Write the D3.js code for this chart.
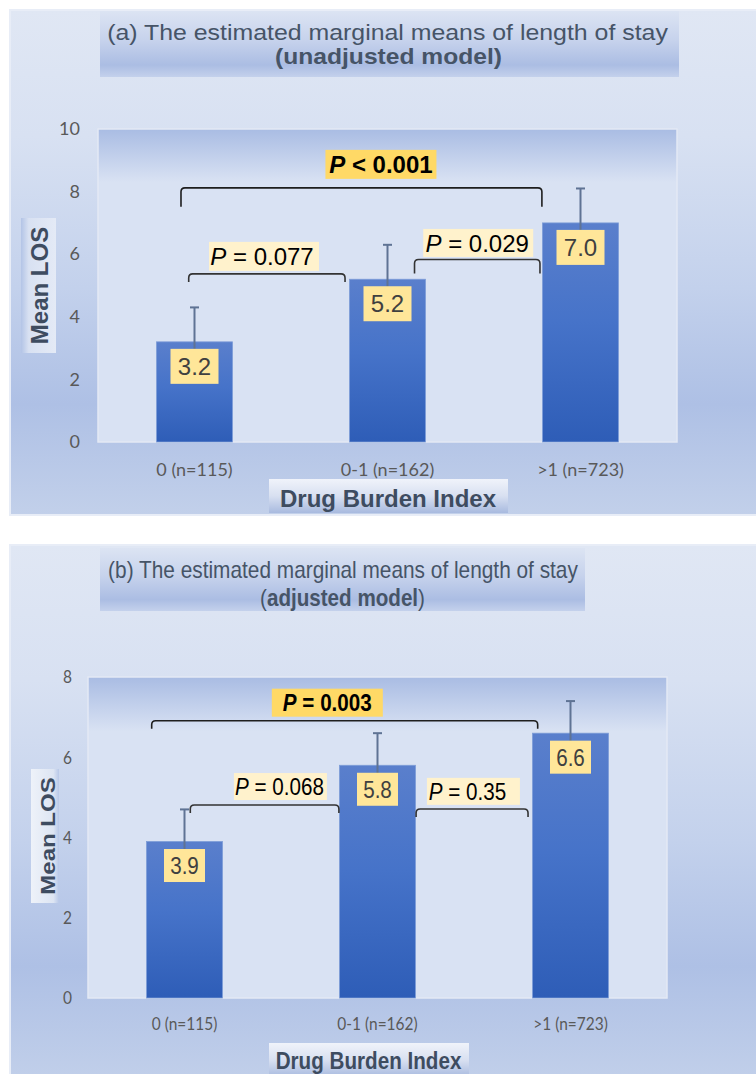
<!DOCTYPE html>
<html>
<head>
<meta charset="utf-8">
<script src="https://cdn.jsdelivr.net/npm/d3@7"></script>
<style>
  body { margin: 0; background: #ffffff; }
  svg { display: block; }
</style>
</head>
<body>
<svg id="chart" width="756" height="1074"></svg>
<script>
// ---- data ----
const categories = ["0 (n=115)", "0-1 (n=162)", ">1 (n=723)"];

// (a) unadjusted model
const meansUnadjusted = [3.2, 5.2, 7.0];
const errUnadjusted = [1.1, 1.1, 1.1];
const ticksUnadjusted = [0, 2, 4, 6, 8, 10];
const pUnadjusted = ["< 0.001", "= 0.077", "= 0.029"];

// (b) adjusted model
const meansAdjusted = [3.9, 5.8, 6.6];
const errAdjusted = [0.8, 0.8, 0.8];
const ticksAdjusted = [0, 2, 4, 6, 8];
const pAdjusted = ["= 0.003", "= 0.068", "= 0.35"];

// pair of groups compared by each p-value
const comparisons = [[0, 2], [0, 1], [1, 2]];

// ---- layout ----
const FONT = "'Liberation Sans', Arial, sans-serif";
const TICKFONT = "Lato, 'Open Sans', sans-serif";
const TITLE_COLOR = "#465467";
const AXIS_TITLE_COLOR = "#3e4c60";

const layoutA = {
  top: 10, height: 505, sx: 1,
  titleBox: [100, 11, 579, 66],
  titleLines: [
    { cx: 387.5, y: 40, w: 561, fs: 22, parts: [{ t: "(a) The estimated marginal means of length of stay" }] },
    { cx: 388.5, y: 64, w: 227, fs: 22, parts: [{ t: "(unadjusted model)", bold: true }] }
  ],
  plot: { x0: 98, x1: 677, yTop: 129, yBottom: 442 },
  tickRight: 80, catY: 469.5,
  vb: { off: 7, w: 48, h: 35, fs: 24 },
  brackets: [
    { d0: -0.07, d1: -0.20, level: 8.12, drop: 19, lt: 0.966, lv: 8.87, lw: 111, lh: 29, tdx: 0 },
    { d0: -0.03, d1: -0.22, level: 5.37, drop: 8, lt: 0.36, lv: 5.93, lw: 110, lh: 29, tdx: -2 },
    { d0: 0.14, d1: -0.21, level: 5.83, drop: 14, lt: 1.47, lv: 6.36, lw: 110, lh: 28, tdx: -1 }
  ],
  yTitle: { box: [21, 218, 35, 135], x: 48, y: 285.5, grad: "yTitleBgA" },
  xTitle: { box: [269, 479, 239, 34], x: 388, y: 507, fs: 24 }
};

const layoutB = {
  top: 545, height: 540, sx: 0.86,
  titleBox: [100, 548, 485, 63],
  titleLines: [
    { cx: 343, y: 578, w: 470, fs: 23, parts: [{ t: "(b) The estimated marginal means of length of stay" }] },
    { cx: 342.5, y: 606, w: 165, fs: 23, parts: [{ t: "(" }, { t: "adjusted model", bold: true }, { t: ")" }] }
  ],
  plot: { x0: 88, x1: 667, yTop: 677, yBottom: 998 },
  tickRight: 72, catY: 1024,
  vb: { off: 7.5, w: 41, h: 33, fs: 24 },
  brackets: [
    { d0: -0.17, d1: -0.17, level: 6.91, drop: 8, lt: 0.74, lv: 7.36, lw: 111, lh: 28, tdx: 0 },
    { d0: 0.03, d1: -0.20, level: 4.81, drop: 8, lt: 0.497, lv: 5.27, lw: 93, lh: 27, tdx: -1 },
    { d0: 0.20, d1: -0.22, level: 4.71, drop: 8, lt: 1.497, lv: 5.15, lw: 93, lh: 27, tdx: -6 }
  ],
  yTitle: { box: [31, 769, 28, 134], x: 55, y: 836, grad: "yTitleBgB" },
  xTitle: { box: [269, 1043, 200, 34], x: 368.5, y: 1069, fs: 24 }
};

// ---- gradients ----
const svg = d3.select("#chart");
const defs = svg.append("defs");

function linGrad(id, horizontal, stops) {
  const gr = defs.append("linearGradient").attr("id", id)
    .attr("x1", 0).attr("y1", 0)
    .attr("x2", horizontal ? 1 : 0).attr("y2", horizontal ? 0 : 1);
  stops.forEach(([o, c]) => gr.append("stop").attr("offset", o).attr("stop-color", c));
}

linGrad("outerBg", false, [[0, "#e0e7f4"], [0.25, "#d8e1f2"], [0.55, "#c3d1ec"], [0.78, "#aec0e5"], [1, "#c2d0ea"]]);
linGrad("titleBg", false, [[0, "#dce4f3"], [0.45, "#c6d2ec"], [0.82, "#abbde3"], [1, "#c4d1ec"]]);
linGrad("plotBg", false, [[0, "#a9bce3"], [0.17, "#d9e2f3"], [1, "#d9e2f3"]]);
linGrad("barFill", false, [[0, "#5a7fcc"], [0.45, "#4673c9"], [1, "#2e5db7"]]);
linGrad("xTitleBg", false, [[0, "#f0f3fa"], [0.5, "#d8e0f1"], [1, "#a8badf"]]);
linGrad("yTitleBgA", true, [[0, "#b3c4e6"], [0.22, "#d8e1f2"], [1, "#e4eaf6"]]);
linGrad("yTitleBgB", true, [[0, "#eef2f9"], [0.8, "#dde5f3"], [1, "#b8c8e8"]]);

// ---- one chart panel ----
function drawPanel(L, means, errs, ticks, pLabels) {
  const g = svg.append("g");
  const sx = L.sx;

  // panel background
  g.append("rect")
    .attr("x", 10).attr("y", L.top).attr("width", 760).attr("height", L.height)
    .attr("fill", "url(#outerBg)").attr("stroke", "#e8edf7").attr("stroke-width", 2);

  // title
  const [tx, ty, tw, th] = L.titleBox;
  g.append("rect").attr("x", tx).attr("y", ty).attr("width", tw).attr("height", th)
    .attr("fill", "url(#titleBg)");
  L.titleLines.forEach(line => {
    const t = g.append("text")
      .attr("text-anchor", "middle")
      .attr("font-family", FONT).attr("font-size", line.fs)
      .attr("fill", TITLE_COLOR)
      .style("white-space", "pre");
    line.parts.forEach(p => t.append("tspan").text(p.t).attr("font-weight", p.bold ? "bold" : "normal"));
    const natural = t.node().getComputedTextLength();
    t.attr("transform", `translate(${line.cx},${line.y}) scale(${line.w / natural},1)`);
  });

  // scales
  const yMax = ticks[ticks.length - 1];
  const x = d3.scaleBand().domain(categories)
    .range([L.plot.x0, L.plot.x1]).paddingInner(0.606).paddingOuter(0.303);
  const y = d3.scaleLinear().domain([0, yMax]).range([L.plot.yBottom, L.plot.yTop]);
  const cx = c => x(c) + x.bandwidth() / 2;
  // position along the category axis, 0 = first group centre, 1 = second
  const along = d3.scaleLinear().domain([0, 1]).range([cx(categories[0]), cx(categories[1])]);

  // plot area
  g.append("rect")
    .attr("x", L.plot.x0).attr("y", y(yMax))
    .attr("width", L.plot.x1 - L.plot.x0).attr("height", y(0) - y(yMax))
    .attr("fill", "url(#plotBg)").attr("stroke", "#e3e9f5").attr("stroke-width", 1.5);

  // y axis
  const ya = g.append("g").attr("transform", `translate(${L.tickRight},0)`)
    .call(d3.axisLeft(y).tickValues(ticks).tickSize(0).tickPadding(0));
  ya.select(".domain").remove();
  ya.selectAll("text")
    .attr("font-family", TICKFONT).attr("font-size", 18).attr("fill", "#595959")
    .attr("transform", `scale(${sx},1)`);

  // category labels
  const xa = g.append("g").attr("transform", `translate(0,${L.catY})`)
    .call(d3.axisBottom(x).tickSize(0).tickPadding(0));
  xa.select(".domain").remove();
  xa.selectAll("text")
    .attr("y", 0).attr("dy", "0.35em")
    .attr("font-family", TICKFONT).attr("font-size", 18).attr("fill", "#595959")
    .attr("transform", `scale(${sx},1)`);

  // bars
  g.selectAll(".bar").data(categories).join("rect")
    .attr("class", "bar")
    .attr("x", c => x(c))
    .attr("y", (c, i) => y(means[i]))
    .attr("width", x.bandwidth())
    .attr("height", (c, i) => y(0) - y(means[i]))
    .attr("fill", "url(#barFill)")
    .attr("stroke", "#7e9dd8").attr("stroke-width", 0.8);

  // error bars (upper only)
  categories.forEach((c, i) => {
    const xc = cx(c);
    const yTop = y(means[i] + errs[i]);
    g.append("line").attr("x1", xc).attr("x2", xc)
      .attr("y1", yTop).attr("y2", y(means[i]) + L.vb.off + 2)
      .attr("stroke", "#5f7394").attr("stroke-width", 2);
    g.append("line").attr("x1", xc - 4.5).attr("x2", xc + 4.5)
      .attr("y1", yTop).attr("y2", yTop)
      .attr("stroke", "#5f7394").attr("stroke-width", 2);
  });

  // value labels
  categories.forEach((c, i) => {
    const xc = cx(c);
    const top = y(means[i]) + L.vb.off;
    g.append("rect")
      .attr("x", xc - L.vb.w / 2).attr("y", top)
      .attr("width", L.vb.w).attr("height", L.vb.h)
      .attr("fill", "#ffe699");
    g.append("text")
      .attr("text-anchor", "middle")
      .attr("font-family", FONT).attr("font-size", L.vb.fs)
      .attr("fill", "#404040")
      .attr("transform", `translate(${xc},${top + L.vb.h / 2 + 0.358 * L.vb.fs}) scale(${sx},1)`)
      .text(d3.format(".1f")(means[i]));
  });

  // significance brackets
  L.brackets.forEach((b, k) => {
    const [i0, i1] = comparisons[k];
    const x0 = along(i0 + b.d0), x1 = along(i1 + b.d1);
    const yh = y(b.level), yb = yh + b.drop, r = 4;
    g.append("path")
      .attr("d", `M${x0},${yb} L${x0},${yh + r} Q${x0},${yh} ${x0 + r},${yh} L${x1 - r},${yh} Q${x1},${yh} ${x1},${yh + r} L${x1},${yb}`)
      .attr("fill", "none")
      .attr("stroke", k === 0 ? "#1e1e1e" : "#333333")
      .attr("stroke-width", 1.6);

    const bx = along(b.lt), by = y(b.lv);
    g.append("rect")
      .attr("x", bx - b.lw / 2).attr("y", by - b.lh / 2)
      .attr("width", b.lw).attr("height", b.lh)
      .attr("fill", k === 0 ? "#ffd966" : "#fff2cc");
    const fs = 24;
    const t = g.append("text")
      .attr("text-anchor", "middle")
      .attr("font-family", FONT).attr("font-size", fs)
      .attr("font-weight", k === 0 ? "bold" : "normal")
      .attr("fill", "#000000")
      .style("white-space", "pre")
      .attr("transform", `translate(${bx + b.tdx},${by + 0.358 * fs}) scale(${sx},1)`);
    t.append("tspan").attr("font-style", "italic").text("P");
    t.append("tspan").text(" " + pLabels[k]);
  });

  // y axis title
  const [yx, yy, yw, yh2] = L.yTitle.box;
  g.append("rect").attr("x", yx).attr("y", yy).attr("width", yw).attr("height", yh2)
    .attr("fill", `url(#${L.yTitle.grad})`);
  g.append("text")
    .attr("text-anchor", "middle")
    .attr("font-family", FONT).attr("font-size", 24).attr("font-weight", "bold")
    .attr("fill", AXIS_TITLE_COLOR)
    .attr("transform", `translate(${L.yTitle.x},${L.yTitle.y}) scale(${sx},1) rotate(-90)`)
    .text("Mean LOS");

  // x axis title
  const [xx, xy, xw, xh] = L.xTitle.box;
  g.append("rect").attr("x", xx).attr("y", xy).attr("width", xw).attr("height", xh)
    .attr("fill", "url(#xTitleBg)");
  g.append("text")
    .attr("text-anchor", "middle")
    .attr("font-family", FONT).attr("font-size", L.xTitle.fs).attr("font-weight", "bold")
    .attr("fill", AXIS_TITLE_COLOR)
    .attr("transform", `translate(${L.xTitle.x},${L.xTitle.y}) scale(${sx},1)`)
    .text("Drug Burden Index");
}

drawPanel(layoutA, meansUnadjusted, errUnadjusted, ticksUnadjusted, pUnadjusted);
drawPanel(layoutB, meansAdjusted, errAdjusted, ticksAdjusted, pAdjusted);
</script>
</body>
</html>
